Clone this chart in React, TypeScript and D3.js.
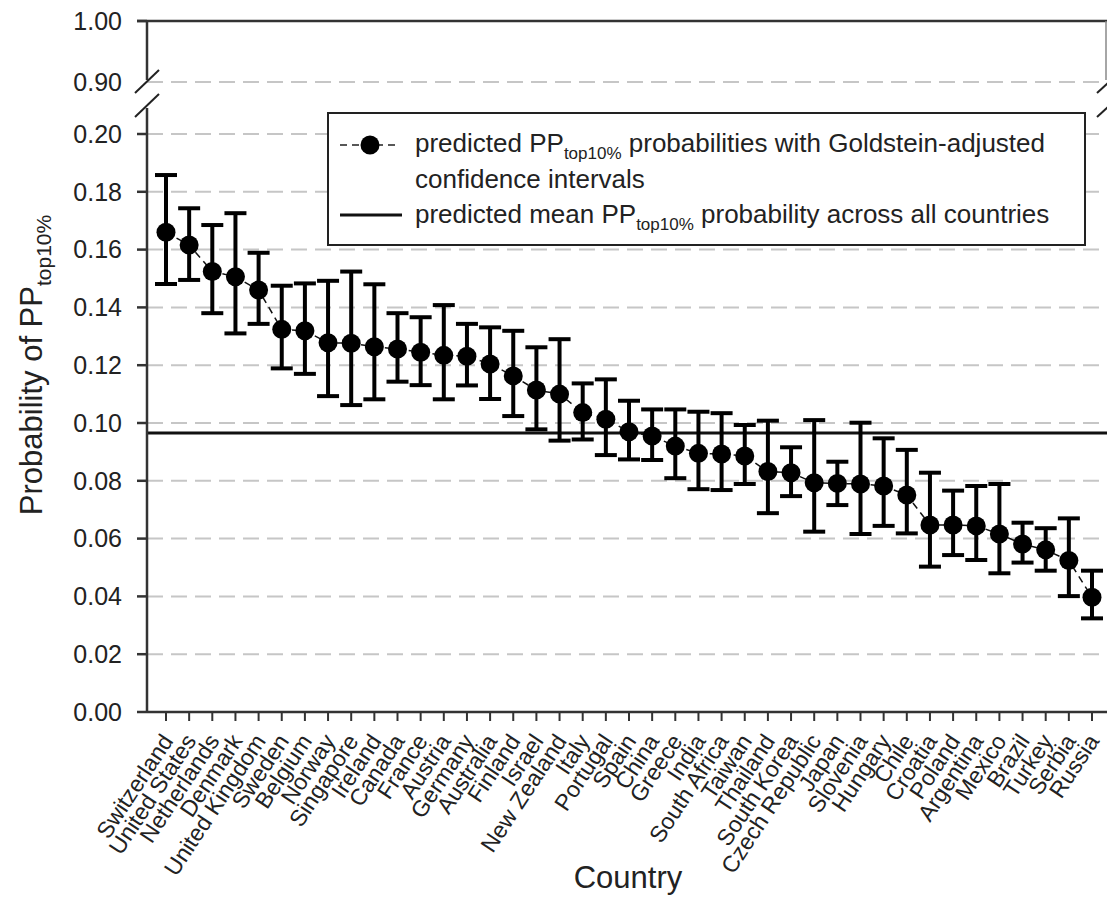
import React from 'react';
import * as d3 from 'd3';

const countries = [
  'Switzerland', 'United States', 'Netherlands', 'Denmark', 'United Kingdom', 'Sweden', 'Belgium',
  'Norway', 'Singapore', 'Ireland', 'Canada', 'France', 'Austria', 'Germany', 'Australia', 'Finland',
  'Israel', 'New Zealand', 'Italy', 'Portugal', 'Spain', 'China', 'Greece', 'India', 'South Africa',
  'Taiwan', 'Thailand', 'South Korea', 'Czech Republic', 'Japan', 'Slovenia', 'Hungary', 'Chile',
  'Croatia', 'Poland', 'Argentina', 'Mexico', 'Brazil', 'Turkey', 'Serbia', 'Russia',
];

const predicted = [
  0.166, 0.1616, 0.1524, 0.1506, 0.146, 0.1324, 0.1319, 0.1278, 0.1276, 0.1264, 0.1256, 0.1245,
  0.1234, 0.1231, 0.1204, 0.1163, 0.1114, 0.11, 0.1036, 0.1013, 0.097, 0.0955, 0.092, 0.0895,
  0.0893, 0.0886, 0.0832, 0.0828, 0.0793, 0.0791, 0.0789, 0.0782, 0.0751, 0.0647, 0.0647, 0.0644,
  0.0616, 0.0581, 0.0561, 0.0524, 0.0397,
];

const lower = [
  0.1481, 0.1495, 0.138, 0.131, 0.1343, 0.1189, 0.117, 0.1093, 0.1062, 0.1082, 0.1143, 0.1131,
  0.1082, 0.113, 0.1083, 0.1024, 0.0978, 0.0939, 0.0943, 0.0889, 0.0874, 0.0872, 0.0809, 0.0771,
  0.0768, 0.0789, 0.0688, 0.0747, 0.0624, 0.0716, 0.0616, 0.0644, 0.0618, 0.0503, 0.0543, 0.0526,
  0.048, 0.0517, 0.0489, 0.0401, 0.0324,
];

const upper = [
  0.1858, 0.1743, 0.1685, 0.1726, 0.1589, 0.1475, 0.1483, 0.1492, 0.1524, 0.148, 0.138, 0.1366,
  0.1408, 0.1343, 0.1331, 0.1319, 0.1262, 0.129, 0.1137, 0.1151, 0.1077, 0.1047, 0.1047, 0.1039,
  0.1034, 0.0993, 0.1008, 0.0916, 0.101, 0.0866, 0.1001, 0.0947, 0.0907, 0.0828, 0.0766, 0.0782,
  0.0789, 0.0655, 0.0636, 0.067, 0.0489,
];

const meanProbability = 0.0965;

const lowTicks = [0, 0.02, 0.04, 0.06, 0.08, 0.1, 0.12, 0.14, 0.16, 0.18, 0.2];
const highTicks = [0.9, 1.0];

const FONT = '"Liberation Sans", Arial, Helvetica, sans-serif';
const TEXT = '#222';
const AXIS = '#333';
const GRID = '#c6c6c6';

const App = () => {
  const width = 1107;
  const height = 897;
  const left = 147;
  const right = 1107;

  const x = d3.scalePoint<string>().domain(countries).range([166, 1092]);
  const yLow = d3.scaleLinear().domain([0, 0.2]).range([712, 134]);
  const yHigh = d3.scaleLinear().domain([0.9, 1.0]).range([82, 21]);

  const rows = countries.map((c, i) => ({ c, p: predicted[i], lo: lower[i], hi: upper[i] }));

  const trend = d3.line<typeof rows[number]>()
    .x(d => x(d.c) as number)
    .y(d => yLow(d.p));

  const cap = 11;

  return (
    <svg width={width} height={height} style={{ position: 'absolute', left: 0, top: 0, background: '#fff' }}
      fontFamily={FONT}>
      {/* gridlines */}
      {lowTicks.filter(t => t > 0).map(t => (
        <line key={'g' + t} x1={left} x2={right} y1={yLow(t)} y2={yLow(t)}
          stroke={GRID} strokeWidth={2} strokeDasharray="16 8" />
      ))}
      <line x1={left} x2={right} y1={yHigh(0.9)} y2={yHigh(0.9)}
        stroke={GRID} strokeWidth={2} strokeDasharray="16 8" />

      {/* mean line */}
      <line x1={left} x2={right} y1={yLow(meanProbability)} y2={yLow(meanProbability)}
        stroke="#111" strokeWidth={3} />

      {/* legend */}
      <g>
        <rect x={328} y={113} width={757} height={132} fill="#fff" stroke="#222" strokeWidth={2} />
        <line x1={340} x2={398} y1={145} y2={145} stroke="#222" strokeWidth={1.6} strokeDasharray="7 5" />
        <circle cx={370} cy={145} r={9.5} fill="#000" />
        <line x1={340} x2={402} y1={215} y2={215} stroke="#111" strokeWidth={3} />
        <text x={415} y={152} fontSize={26} fill={TEXT}>
          predicted PP<tspan fontSize={17} dy={7}>top10%</tspan>
          <tspan dy={-7}> probabilities with Goldstein-adjusted</tspan>
        </text>
        <text x={415} y={188} fontSize={26} fill={TEXT}>confidence intervals</text>
        <text x={415} y={223} fontSize={26} fill={TEXT}>
          predicted mean PP<tspan fontSize={17} dy={7}>top10%</tspan>
          <tspan dy={-7}> probability across all countries</tspan>
        </text>
      </g>

      {/* dashed connector */}
      <path d={trend(rows) || ''} fill="none" stroke="#111" strokeWidth={1.5} strokeDasharray="7 5" />

      {/* error bars and points */}
      {rows.map(d => {
        const cx = x(d.c) as number;
        return (
          <g key={d.c}>
            <line x1={cx} x2={cx} y1={yLow(d.hi)} y2={yLow(d.lo)} stroke="#000" strokeWidth={4} />
            <line x1={cx - cap} x2={cx + cap} y1={yLow(d.hi)} y2={yLow(d.hi)} stroke="#000" strokeWidth={4} />
            <line x1={cx - cap} x2={cx + cap} y1={yLow(d.lo)} y2={yLow(d.lo)} stroke="#000" strokeWidth={4} />
            <circle cx={cx} cy={yLow(d.p)} r={9.5} fill="#000" />
          </g>
        );
      })}

      {/* frame top */}
      <line x1={137} x2={right} y1={yHigh(1)} y2={yHigh(1)} stroke={AXIS} strokeWidth={2.5} />
      <line x1={1106} x2={1106} y1={yHigh(1)} y2={yHigh(0.9) - 2} stroke="#888" strokeWidth={1.5} />

      {/* y axis, broken */}
      <line x1={left} x2={left} y1={yHigh(1)} y2={80} stroke={AXIS} strokeWidth={2.5} />
      <line x1={left} x2={left} y1={108} y2={yLow(0)} stroke={AXIS} strokeWidth={2.5} />
      <line x1={135} x2={159} y1={93} y2={70} stroke="#222" strokeWidth={2} />
      <line x1={135} x2={159} y1={117} y2={94} stroke="#222" strokeWidth={2} />
      <line x1={1097} x2={1108} y1={93} y2={83} stroke="#222" strokeWidth={2} />
      <line x1={1097} x2={1108} y1={117} y2={107} stroke="#222" strokeWidth={2} />

      {lowTicks.map(t => (
        <g key={'yt' + t} transform={`translate(0,${yLow(t)})`}>
          <line x1={137} x2={left} stroke={AXIS} strokeWidth={2.5} />
          <text x={122} dy="0.35em" textAnchor="end" fontSize={25} fill={TEXT}>{t.toFixed(2)}</text>
        </g>
      ))}
      {highTicks.map(t => (
        <g key={'yh' + t} transform={`translate(0,${yHigh(t)})`}>
          {t === 1 && <line x1={137} x2={left} stroke={AXIS} strokeWidth={2.5} />}
          <text x={122} dy="0.35em" textAnchor="end" fontSize={25} fill={TEXT}>{t.toFixed(2)}</text>
        </g>
      ))}

      {/* x axis */}
      <line x1={left} x2={right} y1={yLow(0)} y2={yLow(0)} stroke={AXIS} strokeWidth={2.5} />
      {countries.map(c => {
        const cx = x(c) as number;
        return (
          <g key={'xt' + c}>
            <line x1={cx} x2={cx} y1={yLow(0)} y2={yLow(0) + 9} stroke={AXIS} strokeWidth={2} />
            <text transform={`translate(${cx + 8},${741}) rotate(-56.5)`} textAnchor="end"
              fontSize={23} fill={TEXT}>{c}</text>
          </g>
        );
      })}

      {/* axis titles */}
      <text x={628} y={888} textAnchor="middle" fontSize={31} fill={TEXT}>Country</text>
      <text transform={`translate(42,365) rotate(-90)`} textAnchor="middle" fontSize={31} fill={TEXT}>
        Probability of PP<tspan fontSize={21} dy={9}>top10%</tspan>
      </text>
    </svg>
  );
};

export default App;
